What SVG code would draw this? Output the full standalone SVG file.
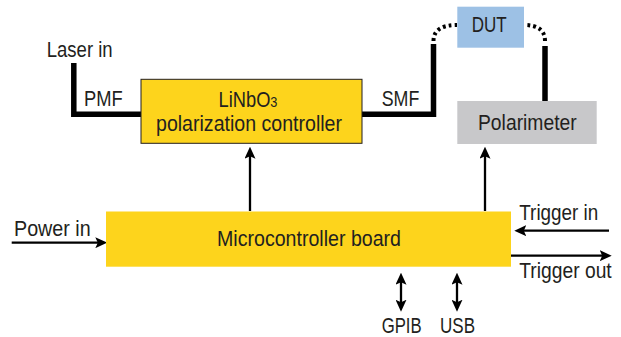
<svg xmlns="http://www.w3.org/2000/svg" width="621" height="337" viewBox="0 0 621 337">
<style>
text{font-family:"Liberation Sans",Arial,sans-serif;font-size:21.5px;fill:#231f20}
.fiber{fill:none;stroke:#000;stroke-width:5.5;stroke-linejoin:miter}
.dots{fill:none;stroke:#000;stroke-width:4;stroke-dasharray:2.8 3.2}
.arr{fill:none;stroke:#000;stroke-width:2.3}
</style>
<defs>
<marker id="ah" viewBox="0 0 12 11" markerWidth="12" markerHeight="11" markerUnits="userSpaceOnUse" refX="4" refY="5.5" orient="auto-start-reverse">
<path d="M0,0 L12,5.5 L0,11 L2.5,5.5 z" fill="#000"/>
</marker>
</defs>
<rect width="621" height="337" fill="#fff"/>
<g id="connectors">
<path class="fiber" d="M73.8,63 V114.2 H141"/>
<path class="fiber" d="M362,114.2 H433.5 V44"/>
<path class="dots" d="M433.5,41 Q433.5,25 457,25"/>
<path class="fiber" d="M545,101 V46"/>
<path class="dots" d="M545,41 Q545,25 524,25"/>
<line class="arr" x1="250" y1="211" x2="250" y2="154.7" marker-end="url(#ah)"/>
<line class="arr" x1="485" y1="211" x2="485" y2="154.7" marker-end="url(#ah)"/>
<line class="arr" x1="11.7" y1="242.7" x2="99.3" y2="242.7" marker-end="url(#ah)"/>
<line class="arr" x1="609" y1="230.7" x2="522.3" y2="230.7" marker-end="url(#ah)"/>
<line class="arr" x1="511" y1="255.7" x2="603.7" y2="255.7" marker-end="url(#ah)"/>
<line class="arr" x1="401" y1="280.7" x2="401" y2="303.7" marker-start="url(#ah)" marker-end="url(#ah)"/>
<line class="arr" x1="457" y1="280.7" x2="457" y2="303.7" marker-start="url(#ah)" marker-end="url(#ah)"/>
<text x="84" y="106" textLength="38.7" lengthAdjust="spacingAndGlyphs">PMF</text>
<text x="381.7" y="106" textLength="37.6" lengthAdjust="spacingAndGlyphs">SMF</text>
</g>
<g id="laser">
<text x="46.7" y="57" textLength="66" lengthAdjust="spacingAndGlyphs">Laser in</text>
</g>
<g id="linbo3">
<rect x="141" y="79.3" width="221" height="64" fill="#fdd41c" stroke="#231f20" stroke-width="1"/>
<text transform="translate(218.6,107) scale(0.85,1)">LiNbO<tspan font-size="15">3</tspan></text>
<text x="156" y="131" textLength="186" lengthAdjust="spacingAndGlyphs">polarization controller</text>
</g>
<g id="dut">
<rect x="457.3" y="6.7" width="66.7" height="41" fill="#9dc1e5"/>
<text x="471.7" y="31.7" textLength="35" lengthAdjust="spacingAndGlyphs">DUT</text>
</g>
<g id="polarimeter">
<rect x="457.3" y="101" width="139.4" height="43" fill="#c8c8ca"/>
<text x="478" y="129.5" textLength="98.7" lengthAdjust="spacingAndGlyphs">Polarimeter</text>
</g>
<g id="mcu">
<rect x="106" y="211.5" width="405" height="55.2" fill="#fdd41c"/>
<text x="217" y="246" textLength="184" lengthAdjust="spacingAndGlyphs">Microcontroller board</text>
</g>
<g id="power">
<text x="14" y="236" textLength="76.7" lengthAdjust="spacingAndGlyphs">Power in</text>
</g>
<g id="trigger-in">
<text x="519.3" y="220" textLength="79" lengthAdjust="spacingAndGlyphs">Trigger in</text>
</g>
<g id="trigger-out">
<text x="519.3" y="278.3" textLength="92.4" lengthAdjust="spacingAndGlyphs">Trigger out</text>
</g>
<g id="gpib">
<text x="381.7" y="333.3" textLength="40" lengthAdjust="spacingAndGlyphs">GPIB</text>
</g>
<g id="usb">
<text x="440" y="333.3" textLength="35" lengthAdjust="spacingAndGlyphs">USB</text>
</g>
</svg>
